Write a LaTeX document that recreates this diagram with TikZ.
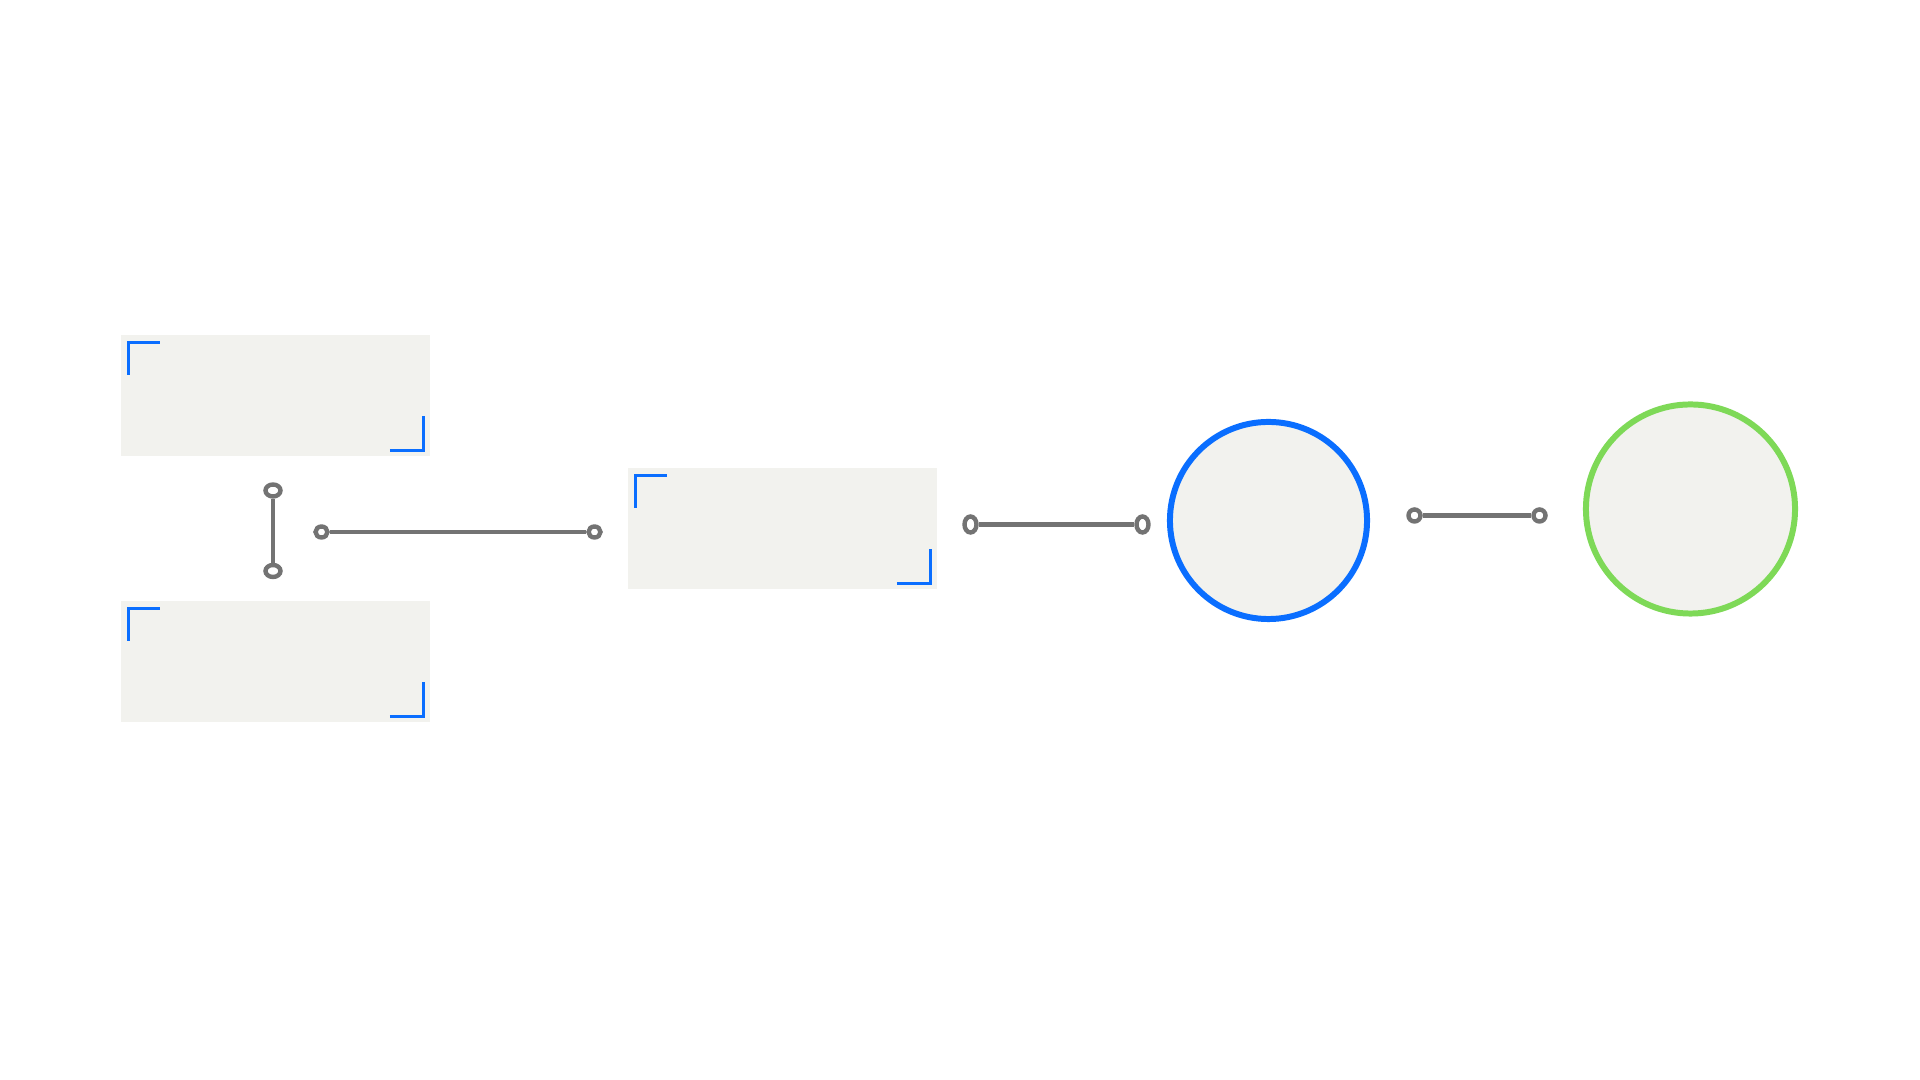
\documentclass[tikz,border=0pt]{standalone}
\usetikzlibrary{positioning,shapes.geometric}

\definecolor{panelfill}{HTML}{F2F2EE}
\definecolor{markblue}{HTML}{0A6EFF}
\definecolor{okgreen}{HTML}{7ED957}
\definecolor{linkgray}{HTML}{737373}

\begin{document}
\begin{tikzpicture}[
    x=0.01cm,
    y=-0.01cm,
    panel/.style={
        rectangle,
        fill=panelfill,
        inner sep=0pt,
        minimum width=3.09cm,
        minimum height=1.2cm
    },
    disc/.style={
        circle,
        draw=#1,
        fill=panelfill,
        line width=1.7pt,
        inner sep=0pt
    },
    knob/.style={
        ellipse,
        draw=linkgray,
        fill=white,
        line width=1.25pt,
        inner sep=0pt
    },
    link/.style={line width=1.4pt, draw=linkgray},
    bracket/.style={line width=0.75pt, draw=markblue}
]

\useasboundingbox[fill=white] (0,0) rectangle (1920,1080);

\node[panel] (topbox) at (275.5,395.5) {};
\node[panel] (bottombox) at (275.5,661.5) {};
\node[panel] (midbox) at (782.5,528.5) {};
\node[disc=markblue, minimum size=1.97cm] (bluedisc) at (1268.5,520.5) {};
\node[disc=okgreen, minimum size=2.09cm] (greendisc) at (1690.5,509) {};

% corner marks on the panels
\foreach \b in {topbox,bottombox,midbox}{
    \draw[bracket] ([shift={(8,40)}]\b.north west) -- ++(0,-32) -- ++(32,0);
    \draw[bracket] ([shift={(-41,-6)}]\b.south east) -- ++(34,0) -- ++(0,-34);
}

% loose links
\node[knob, minimum width=0.15cm, minimum height=0.12cm] (vtop) at (273,490.5) {};
\node[knob, minimum width=0.15cm, minimum height=0.12cm] (vbot) at (273,571) {};
\node[knob, minimum width=0.12cm, minimum height=0.11cm] (hleft) at (321.5,532) {};
\node[knob, minimum width=0.12cm, minimum height=0.11cm] (hright) at (594.5,532) {};
\node[knob, minimum width=0.12cm, minimum height=0.16cm] (mleft) at (970.5,524.5) {};
\node[knob, minimum width=0.12cm, minimum height=0.16cm] (mright) at (1142.5,524.5) {};
\node[knob, minimum width=0.12cm, minimum height=0.12cm] (rleft) at (1414.5,515.5) {};
\node[knob, minimum width=0.12cm, minimum height=0.12cm] (rright) at (1539.5,515.5) {};

\draw[link] (vtop) -- (vbot);
\draw[link] (hleft) -- (hright);
\draw[link] (mleft) -- (mright);
\draw[link] (rleft) -- (rright);

\end{tikzpicture}
\end{document}
